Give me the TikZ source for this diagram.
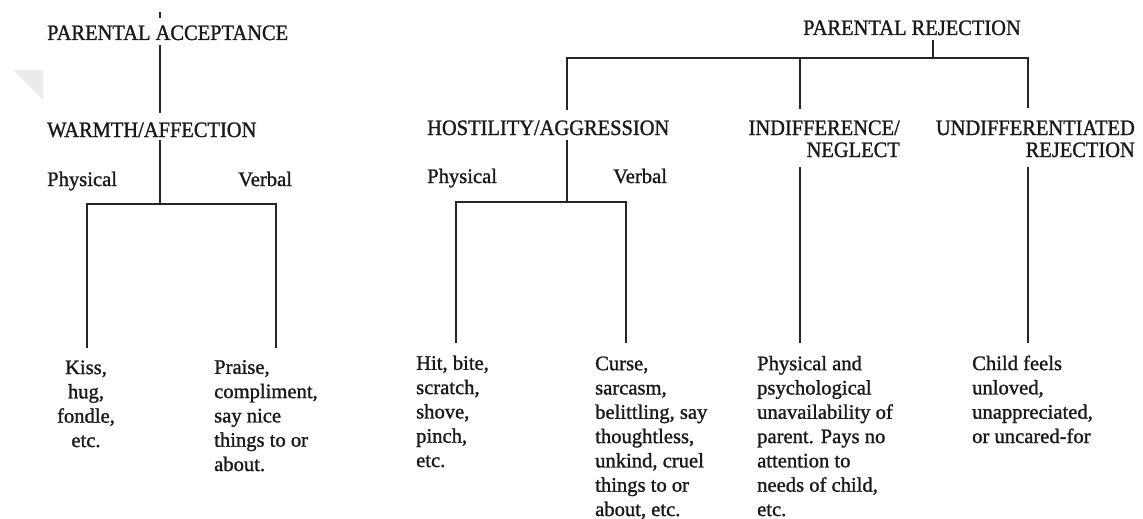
\documentclass[tikz,border=0pt]{standalone}
\usepackage{fontspec}
\setmainfont[FakeBold=1.2]{Liberation Serif}
\newfontfamily\headfont[FakeStretch=0.93,FakeBold=1.2]{Liberation Serif}
\begin{document}
\begin{tikzpicture}[x=1pt,y=-1pt,
  wire/.style={draw=black!85, line width=1.4pt},
  head/.style={inner sep=0pt, text=black!90, font=\headfont\fontsize{22}{22}\selectfont},
  body/.style={inner sep=0pt, text=black!90, font=\fontsize{20.6}{24.3}\selectfont},
  leaf/.style={body, anchor=base west, align=left},
]
\useasboundingbox (0,0) rectangle (1143,519);
% faint mark in the left margin
\fill[black!8] (13,70) -- (43,70) -- (43,100) -- cycle;

% ---------------- acceptance branch ----------------
% (multi-line nodes are placed by the baseline of their last line)
\node[head, anchor=base west] (pa) at (47,40) {PARENTAL ACCEPTANCE};
\node[head, anchor=base west] (wa) at (47,137) {WARMTH/AFFECTION};
\node[body, anchor=base west] (wphys) at (47,186) {Physical};
\node[body, anchor=base west] (wverb) at (238,186) {Verbal};
\node[body, anchor=base, align=center] (kiss) at (86,447) {Kiss,\\hug,\\fondle,\\etc.};
\node[leaf] (praise) at (214,471) {Praise,\\compliment,\\say nice\\things to or\\about.};

\coordinate (paTick1) at (160,12);
\coordinate (paTick2) at (160,18);
\coordinate (paLow) at (160,45);
\coordinate (waTop) at (160,113);
\coordinate (waLow) at (160,140);
\coordinate (wJoin) at (160,204);
\coordinate (wL) at (87,204);
\coordinate (wR) at (276,204);
\coordinate (wLend) at (87,348);
\coordinate (wRend) at (276,348);

\draw[wire] (paTick1) -- (paTick2);
\draw[wire] (paLow) -- (waTop);
\draw[wire] (waLow) -- (wJoin);
\draw[wire] (wLend) -- (wL) -- (wR) -- (wRend);

% ---------------- rejection branch ----------------
\node[head, anchor=base west] (pr) at (803,35) {PARENTAL REJECTION};
\node[head, anchor=base west] (ha) at (427,135) {HOSTILITY/AGGRESSION};
\node[head, anchor=base east, align=right] (in) at (900,157) {INDIFFERENCE/\\NEGLECT\hspace{5pt}};
\node[head, anchor=base east, align=right] (ur) at (1135,157) {UNDIFFERENTIATED\\REJECTION\hspace{32pt}};
\node[body, anchor=base west] (hphys) at (427,183) {Physical};
\node[body, anchor=base west] (hverb) at (613,183) {Verbal};

\node[leaf] (hit) at (416,467) {Hit, bite,\\scratch,\\shove,\\pinch,\\etc.};
\node[leaf] (curse) at (595,516) {Curse,\\sarcasm,\\belittling, say\\thoughtless,\\unkind, cruel\\things to or\\about, etc.};
\node[leaf] (phys) at (757,516) {Physical and\\psychological\\unavailability of\\parent. Pays no\\attention to\\needs of child,\\etc.};
\node[leaf] (child) at (972,443) {Child feels\\unloved,\\unappreciated,\\or uncared-for};

\coordinate (prLow) at (933,40);
\coordinate (prJoin) at (933,58);
\coordinate (rL) at (567,58);
\coordinate (rM) at (800,58);
\coordinate (rR) at (1028,58);
\coordinate (rLend) at (567,110);
\coordinate (rMend) at (800,109);
\coordinate (rRend) at (1028,108);
\coordinate (haLow) at (567,140);
\coordinate (hJoin) at (567,202);
\coordinate (hL) at (456,202);
\coordinate (hR) at (626,202);
\coordinate (hLend) at (456,343);
\coordinate (hRend) at (626,343);
\coordinate (inLow) at (800,167);
\coordinate (inEnd) at (800,343);
\coordinate (urLow) at (1028,167);
\coordinate (urEnd) at (1028,343);

\draw[wire] (prLow) -- (prJoin);
\draw[wire] (rLend) -- (rL) -- (rR) -- (rRend);
\draw[wire] (rM) -- (rMend);
\draw[wire] (haLow) -- (hJoin);
\draw[wire] (hLend) -- (hL) -- (hR) -- (hRend);
\draw[wire] (inLow) -- (inEnd);
\draw[wire] (urLow) -- (urEnd);
\end{tikzpicture}
\end{document}
